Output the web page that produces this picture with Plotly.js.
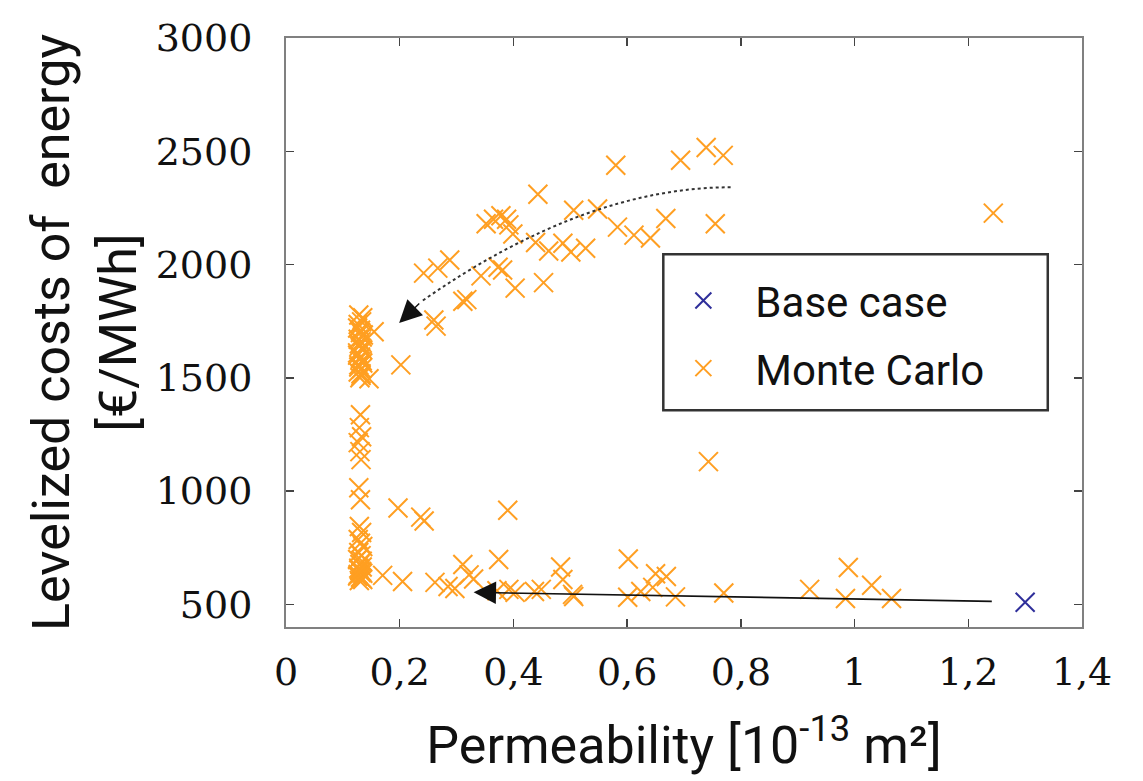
<!DOCTYPE html>
<html>
<head>
<meta charset="utf-8">
<script src="https://cdn.plot.ly/plotly-3.0.1.min.js"></script>
<style>html,body{margin:0;padding:0;background:#fff;}#chart{width:1143px;height:781px;}</style>
</head>
<body>
<div id="chart"></div>
<script>
// Base case
const baseX = [1.300];
const baseY = [509];

// Monte Carlo samples: permeability [1e-13 m2]
const mcX = [
  // vertical band at the lower permeability bound
  0.128,0.133,0.126,0.131,0.136,0.127,0.132,0.129,0.135,0.126,0.131,0.134,0.128,0.133,0.127,0.132,0.130,
  0.135,0.127,0.131,0.134,0.129,0.133,0.126,0.131,0.135,0.128,0.132,
  0.131,0.129,0.133,0.127,0.130,0.132,0.128,0.131,
  0.129,0.133,0.127,0.131,0.135,0.128,0.132,0.126,0.130,0.134,0.129,0.133,0.127,0.131,0.135,
  0.134,0.128,0.132,0.126,0.133,0.129,0.135,0.130,
  0.155,0.146,0.202,0.170,
  // upper branch
  0.443,0.580,0.694,0.739,0.769,0.506,0.548,0.583,0.612,0.641,0.668,0.755,
  0.352,0.365,0.378,0.388,0.392,0.399,0.439,0.462,0.487,0.501,0.527,
  0.453,0.403,0.381,0.373,0.343,0.311,0.318,0.242,0.267,0.288,0.260,0.264,
  1.244,0.743,
  // lower branch
  0.197,0.237,0.243,0.390,0.311,0.374,0.483,0.602,0.650,0.669,
  0.205,0.262,0.285,0.297,0.322,0.330,0.371,0.392,0.403,0.437,0.449,0.487,
  0.504,0.506,0.601,0.624,0.645,0.685,0.770,0.921,0.989,0.984,1.030,1.065
];
// Monte Carlo samples: levelized cost of energy [EUR/MWh]
const mcY = [
  1777,1747,1720,1700,1689,1670,1659,1640,1623,1600,1592,1575,1557,1540,1526,1510,1500,
  1765,1735,1710,1680,1650,1630,1610,1585,1565,1548,1518,
  1337,1280,1240,1214,1174,1139,1015,962,
  844,817,786,770,755,729,715,698,676,665,654,645,632,620,610,
  690,660,640,625,615,605,637,648,
  1703,1496,1557,628,
  2310,2438,2460,2517,2482,2240,2245,2165,2130,2117,2203,2180,
  2180,2200,2215,2200,2175,2135,2097,2060,2094,2055,2072,
  1920,1896,1976,1988,1950,1838,1845,1962,1984,2020,1755,1728,
  2227,1130,
  925,885,868,915,676,698,665,700,635,623,
  601,597,579,570,630,612,560,566,553,557,566,610,
  544,535,531,557,575,533,550,566,663,526,584,526
];

// x tick labels (decimal comma)
const xTickVals = [0, 0.2, 0.4, 0.6, 0.8, 1, 1.2, 1.4];
const xTickText = ['0', '0,2', '0,4', '0,6', '0,8', '1', '1,2', '1,4'];
const yTickVals = [500, 1000, 1500, 2000, 2500, 3000];

// arrows: [tail, tip]
const solidArrowX = [1.244, 0.330];
const solidArrowY = [513, 553];
// dotted curved arrow: start, control, end-of-curve, tip
const dotArrowX = [0.782, 0.525, 0.237, 0.199];
const dotArrowY = [2341, 2341, 1835, 1742];

const orange = '#ff9f22';
const blue = '#2e2e9a';

const traces = [
  {x: baseX, y: baseY, type: 'scatter', mode: 'markers', name: 'Base case',
   legendgroup: 'a',
   marker: {symbol: 'x-thin-open', size: 19, color: blue, line: {color: blue, width: 2}}},
  {x: mcX, y: mcY, type: 'scatter', mode: 'markers', name: 'Monte Carlo',
   legendgroup: 'b',
   marker: {symbol: 'x-thin-open', size: 19, color: orange, line: {color: orange, width: 2}}}
];

const serif = {family: 'DejaVu Serif, serif', size: 38, color: '#111'};
const sans = 'Roboto, Noto Sans, sans-serif';

const layout = {
  width: 1143, height: 781,
  margin: {l: 286, r: 61, t: 38, b: 154},
  paper_bgcolor: '#fff', plot_bgcolor: '#fff',
  showlegend: true,
  legend: {x: 0.459, y: 0.6116, xanchor: 'left', yanchor: 'top',
           font: {family: sans, size: 42, color: '#111'},
           bgcolor: 'rgba(0,0,0,0)', borderwidth: 0,
           traceorder: 'grouped', tracegroupgap: 10, itemwidth: 94},
  xaxis: {range: [0, 1.4], tickvals: xTickVals, ticktext: xTickText,
          ticks: 'inside', ticklen: 8, tickwidth: 1.5, tickcolor: '#444',
          showline: true, linecolor: '#808080', linewidth: 2, mirror: 'ticks',
          showgrid: false, zeroline: false, tickfont: serif, ticklabelstandoff: 10,
          title: {text: 'Permeability [10<sup>-13</sup> m²]', font: {family: sans, size: 52, color: '#111'}, standoff: 34}},
  yaxis: {range: [400, 3000], tickvals: yTickVals,
          ticks: 'inside', ticklen: 8, tickwidth: 1.5, tickcolor: '#444',
          showline: true, linecolor: '#808080', linewidth: 2, mirror: 'ticks',
          showgrid: false, zeroline: false, tickfont: serif, ticklabelstandoff: 24,
          title: {text: 'Levelized costs of  energy<br>[€/MWh]', font: {family: sans, size: 52, color: '#111'}, standoff: 2}},
  shapes: [
    {type: 'rect', xref: 'paper', yref: 'paper', x0: 0.474, x1: 0.957, y0: 0.368, y1: 0.633,
     line: {color: '#333', width: 2.5}, fillcolor: 'rgba(0,0,0,0)'},
    {type: 'path', xref: 'x', yref: 'y',
     path: 'M ' + dotArrowX[0] + ',' + dotArrowY[0] + ' Q ' + dotArrowX[1] + ',' + dotArrowY[1] + ' ' + dotArrowX[2] + ',' + dotArrowY[2],
     line: {color: '#333', width: 2, dash: 'dot'}}
  ],
  annotations: [
    {x: solidArrowX[1], y: solidArrowY[1], ax: solidArrowX[0], ay: solidArrowY[0],
     xref: 'x', yref: 'y', axref: 'x', ayref: 'y', text: '', showarrow: true,
     arrowhead: 2, arrowsize: 2.8, arrowwidth: 1.6, arrowcolor: '#111'},
    {x: dotArrowX[3], y: dotArrowY[3], ax: dotArrowX[2], ay: dotArrowY[2],
     xref: 'x', yref: 'y', axref: 'x', ayref: 'y', text: '', showarrow: true,
     arrowhead: 2, arrowsize: 3.2, arrowwidth: 1.4, arrowcolor: '#111'}
  ]
};

Plotly.newPlot('chart', traces, layout, {displayModeBar: false, staticPlot: true});
</script>
</body>
</html>
